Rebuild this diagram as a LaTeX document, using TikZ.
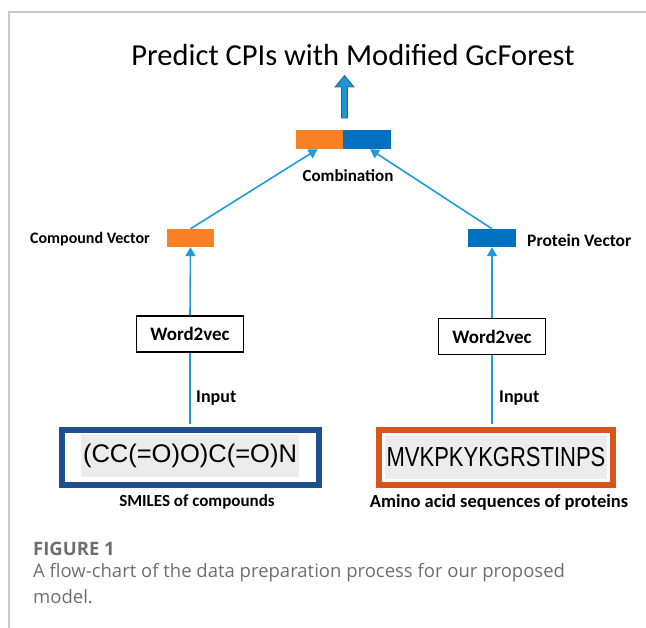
\documentclass[tikz,border=0pt]{standalone}
\usepackage{fontspec}
\setmainfont{Carlito}
\newfontfamily\arialfont{Liberation Sans}
\newfontfamily\capfont{Open Sans}
\usetikzlibrary{arrows.meta,calc}

\definecolor{vecorange}{RGB}{250,128,38}
\definecolor{vecblue}{RGB}{0,112,192}
\definecolor{linkblue}{RGB}{30,155,220}
\definecolor{bigarrowfill}{RGB}{30,150,210}
\definecolor{bigarrowedge}{RGB}{40,100,160}
\definecolor{smilesedge}{RGB}{30,80,145}
\definecolor{protedge}{RGB}{215,85,25}
\definecolor{seqbg}{RGB}{236,236,236}
\definecolor{capgray}{RGB}{110,110,110}
\definecolor{framegray}{RGB}{200,200,200}

\tikzset{
  vecbar/.style={rectangle, inner sep=0pt, minimum height=19pt},
  wordbox/.style={draw=black, line width=1.2pt, inner sep=0pt, minimum width=107pt,
    minimum height=36pt, font=\fontsize{19}{21}\selectfont\bfseries},
  lbl/.style={inner sep=0pt, font=\fontsize{16.5}{19}\selectfont\bfseries},
  seqbox/.style={line width=6pt, inner sep=0pt, minimum height=55pt},
  link/.style={draw=linkblue, line width=1.6pt},
  linkarrow/.style={link, -{Triangle[length=9pt,width=10pt]}},
  captext/.style={anchor=west, inner sep=0pt, text=capgray},
}

\begin{document}
\begin{tikzpicture}[x=1pt,y=-1pt]
\useasboundingbox (0,0) rectangle (646,628);

% outer frame (top and left rules)
\draw[framegray, line width=1.2pt] (9,628) -- (9,12) -- (646,12);

% title and output arrow
\node[inner sep=0pt, font=\fontsize{30.5}{34}\selectfont] (title) at (353,55)
  {Predict CPIs with Modified GcForest};
\draw[fill=bigarrowfill, draw=bigarrowedge, line width=0.8pt]
  (341.5,118) -- (341.5,87) -- (335,87) -- (344.5,75.5) -- (354,87) -- (347.5,87)
  -- (347.5,118) -- cycle;

% combined vector
\node[vecbar, fill=vecorange, minimum width=47pt] (cmbo) at (319.5,139.5) {};
\node[vecbar, fill=vecblue, minimum width=48pt] (cmbb) at (367,139.5) {};
\node[lbl, font=\fontsize{17}{19}\selectfont\bfseries] (comb) at (348,176) {Combination};

% individual vectors
\node[vecbar, fill=vecorange, minimum width=47pt, minimum height=18pt] (cv) at (190.5,238) {};
\node[lbl, anchor=east, font=\fontsize{16}{19}\selectfont\bfseries] (cvlbl) at (150,239) {Compound Vector};
\node[vecbar, fill=vecblue, minimum width=48pt, minimum height=18pt] (pv) at (492,238) {};
\node[lbl, anchor=west, font=\fontsize{17.5}{19}\selectfont\bfseries] (pvlbl) at (527,240) {Protein Vector};

% word2vec encoders
\node[wordbox] (w2vc) at (190,334) {Word2vec};
\node[wordbox] (w2vp) at (492,336.5) {Word2vec};

% raw sequences
\node[seqbox, draw=smilesedge, minimum width=257pt] (smi) at (190.5,458) {};
\node[fill=seqbg, inner sep=0pt, minimum width=218pt, minimum height=42pt] (smitxt) at (190,456)
  {\arialfont\fontsize{25.5}{28}\selectfont (CC(=O)O)C(=O)N};
\node[seqbox, draw=protedge, minimum width=234pt] (prot) at (496,457.5) {};
\node[fill=seqbg, inner sep=0pt, minimum width=222pt, minimum height=43pt] (prottxt) at (496,457.5)
  {\arialfont\fontsize{27.5}{30}\selectfont\scalebox{0.8}[1]{MVKPKYKGRSTINPS}};
\node[lbl, font=\fontsize{17}{19}\selectfont\bfseries] (smilbl) at (197,502) {SMILES of compounds};
\node[lbl, font=\fontsize{18.5}{20}\selectfont\bfseries] (protlbl) at (499,502) {Amino acid sequences of proteins};

% connectors
\coordinate (smitop) at (w2vc.south |- smi.north);
\coordinate (prottop) at (w2vp.south |- prot.north);
\draw[link] ($(smitop)+(0,-3)$) -- (w2vc.south);
\draw[link] ($(prottop)+(0,-3)$) -- (w2vp.south);
\node[lbl, anchor=west, font=\fontsize{18}{20}\selectfont\bfseries] (inc) at (196,398) {Input};
\node[lbl, anchor=west, font=\fontsize{18}{20}\selectfont\bfseries] (inp) at (499,398) {Input};
\draw[linkarrow] (w2vc.north) -- (cv.south);
\draw[linkarrow] (w2vp.north) -- (pv.south);
\draw[linkarrow] (cv.north) -- ($(cmbo.south)+(-2,0)$);
\draw[linkarrow] (pv.north) -- ($(cmbb.south)+(3,0)$);

% caption
\node[captext, font=\capfont\fontsize{18.5}{22}\selectfont\bfseries] (fig)
  at (33,549) {FIGURE 1};
\node[captext, font=\capfont\fontsize{18.5}{22}\selectfont] (cap1)
  at (33,573) {A flow-chart of the data preparation process for our proposed};
\node[captext, font=\capfont\fontsize{18.5}{22}\selectfont] (cap2)
  at (33,597) {model.};
\end{tikzpicture}
\end{document}
